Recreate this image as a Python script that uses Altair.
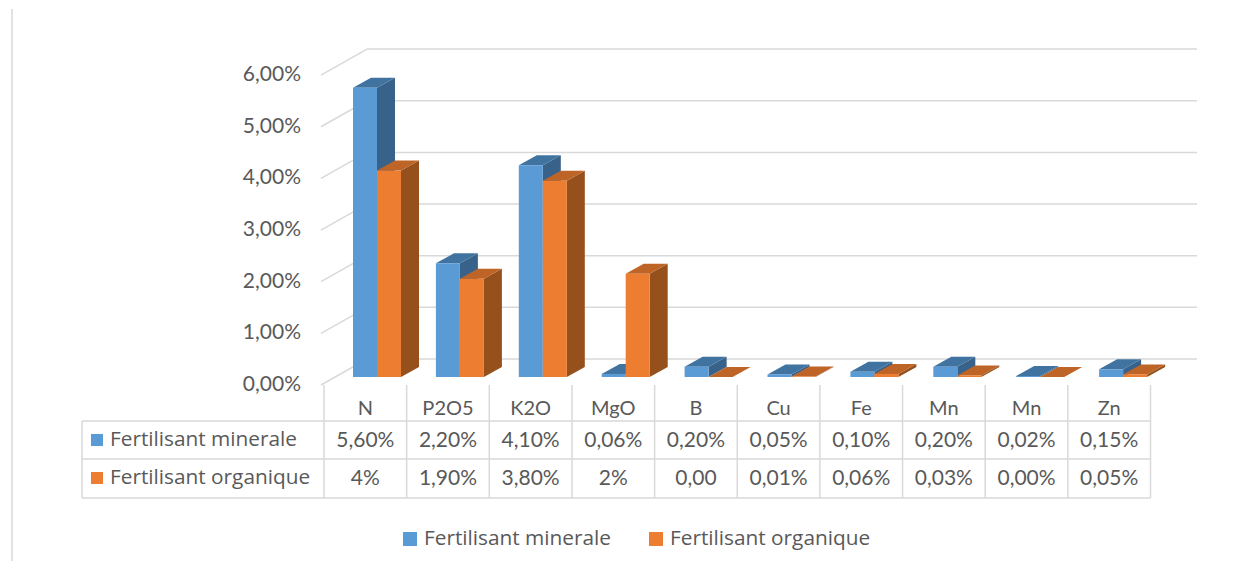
import altair as alt
import pandas as pd

categories = ["N", "P2O5", "K2O", "MgO", "B", "Cu", "Fe", "Mn", "Mn", "Zn"]
minerale = [5.60, 2.20, 4.10, 0.06, 0.20, 0.05, 0.10, 0.20, 0.02, 0.15]
organique = [4.0, 1.90, 3.80, 2.0, 0.0, 0.01, 0.06, 0.03, 0.0, 0.05]
minerale_labels = ["5,60%", "2,20%", "4,10%", "0,06%", "0,20%", "0,05%", "0,10%", "0,20%", "0,02%", "0,15%"]
organique_labels = ["4%", "1,90%", "3,80%", "2%", "0,00", "0,01%", "0,06%", "0,03%", "0,00%", "0,05%"]
y_ticks = [0, 1, 2, 3, 4, 5, 6]
y_tick_labels = ["0,00%", "1,00%", "2,00%", "3,00%", "4,00%", "5,00%", "6,00%"]
series = ["Fertilisant minerale", "Fertilisant organique"]

BLUE, BLUE_SIDE, BLUE_TOP = "#5B9BD5", "#38628A", "#4073A0"
ORANGE, ORANGE_SIDE, ORANGE_TOP = "#ED7D31", "#96501C", "#BE6426"
GRID = "#D9D9D9"
TEXT = "#595959"
FONT = "Lato"

PX_PER_UNIT = 51.65
BASE = 376.0


def v(p):
    return (BASE - p) / PX_PER_UNIT


DX, DY = 18, 10 / PX_PER_UNIT
BAR_W = 24
BAR_X0, BAR_STEP = 353, 82.9
COL_X0, COL_W = 324, 82.65

x_scale = alt.Scale(domain=[8, 1240], range=[0, 1232], nice=False, zero=False)
y_scale = alt.Scale(domain=[v(560), v(8)], range=[552, 0], nice=False, zero=False)
X = lambda f="x": alt.X(f"{f}:Q", scale=x_scale, axis=None)
Y = lambda f="y": alt.Y(f"{f}:Q", scale=y_scale, axis=None)


def rules(rows, color=GRID, width=1.5):
    return alt.Chart(pd.DataFrame(rows, columns=["x", "x2", "y", "y2"])).mark_rule(
        color=color, strokeWidth=width
    ).encode(x=X(), x2="x2:Q", y=Y(), y2="y2:Q")


def texts(rows, align="center", size=21, font=FONT):
    return alt.Chart(pd.DataFrame(rows, columns=["x", "y", "t"])).mark_text(
        font=font, fontSize=size, color=TEXT, align=align, baseline="middle"
    ).encode(x=X(), y=Y(), text="t:N")


def rects(rows, color):
    return alt.Chart(pd.DataFrame(rows, columns=["x", "x2", "y", "y2"])).mark_rect(
        color=color
    ).encode(x=X(), x2="x2:Q", y=Y(), y2="y2:Q")


def bar_layers(values, offset, front, side, top):
    front_rows, side_rows, top_rows = [], [], []
    for i, val in enumerate(values):
        x0 = BAR_X0 + BAR_STEP * i + offset
        x1 = x0 + BAR_W
        front_rows.append((x0, x1, val, 0))
        side_rows += [
            dict(c=i, x=x1, y=val, y2=0),
            dict(c=i, x=x1 + DX, y=val + DY, y2=DY),
        ]
        top_rows += [
            dict(c=i, x=x0, x2=x1, y=val),
            dict(c=i, x=x0 + DX, x2=x1 + DX, y=val + DY),
        ]
    side_l = alt.Chart(pd.DataFrame(side_rows)).mark_area(
        color=side, orient="vertical"
    ).encode(x=X(), y=Y(), y2="y2:Q", detail="c:N")
    top_l = alt.Chart(pd.DataFrame(top_rows)).mark_area(
        color=top, orient="horizontal"
    ).encode(x=X(), x2="x2:Q", y=Y(), detail="c:N")
    return [side_l, top_l, rects(front_rows, front)]


layers = []

# outer frame line on the left
layers.append(rules([(12, 12, v(8), v(560))], "#D9D9D9", 1.5))

# back wall and side wall gridlines
back = [(367, 1197, v(358) + t, v(358) + t) for t in y_ticks]
wall = [(321, 367, v(384) + t, v(358) + t) for t in y_ticks]
layers.append(rules(back + wall))

# bars
layers += bar_layers(minerale, 0, BLUE, BLUE_SIDE, BLUE_TOP)
layers += bar_layers(organique, BAR_W, ORANGE, ORANGE_SIDE, ORANGE_TOP)

# y axis labels
layers.append(texts([(301, v(384) + t, l) for t, l in zip(y_ticks, y_tick_labels)], "right"))

# data table
n = len(categories)
right = COL_X0 + COL_W * n
ROW = [v(420), v(458), v(497)]
table = [(82, right, r, r) for r in ROW]
table += [(82, 82, ROW[0], ROW[2])]
table += [(COL_X0 + COL_W * i, COL_X0 + COL_W * i, v(384), ROW[2]) for i in range(n + 1)]
layers.append(rules(table))

cx = [COL_X0 + COL_W * (i + 0.5) for i in range(n)]
layers.append(texts(list(zip(cx, [v(408)] * n, categories)), size=20))
layers.append(texts(list(zip(cx, [v(439.5)] * n, minerale_labels))))
layers.append(texts(list(zip(cx, [v(477.5)] * n, organique_labels))))

# series names and keys, in table and legend
layers.append(rects([(91, 103, v(433), v(445)), (403, 417, v(531), v(545))], BLUE))
layers.append(rects([(91, 103, v(471), v(483)), (649, 663, v(531), v(545))], ORANGE))
layers.append(texts([
    (110, v(438.5), series[0]),
    (110, v(476.5), series[1]),
    (424, v(537.5), series[0]),
    (670, v(537.5), series[1]),
], "left", size=20.8, font="Open Sans"))

chart = alt.layer(*layers).properties(
    width=1232, height=552, padding=0,
    background="white",
).configure_view(stroke=None)

chart.save("out.html", embed_options={"renderer": "svg", "actions": False})
